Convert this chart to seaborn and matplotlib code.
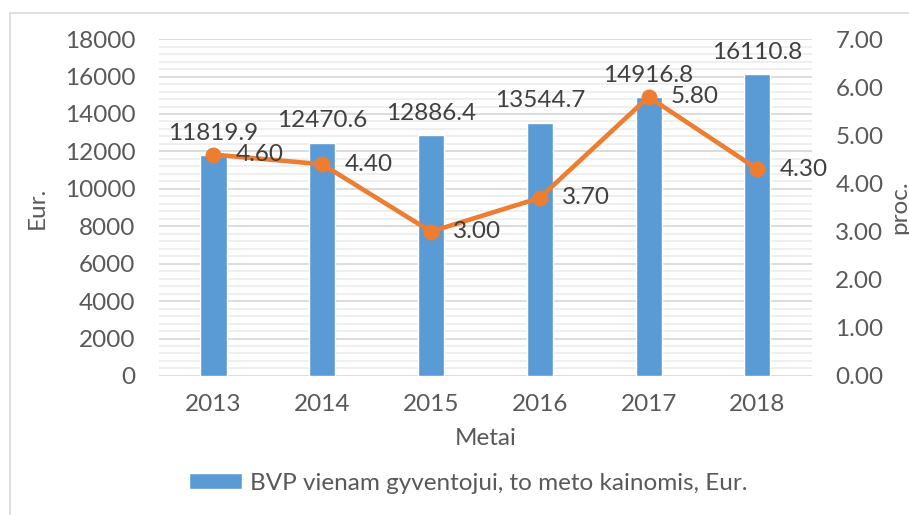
import matplotlib.pyplot as plt
import seaborn as sns
from matplotlib.ticker import MultipleLocator, FormatStrFormatter
from matplotlib.patches import Rectangle

years = ["2013", "2014", "2015", "2016", "2017", "2018"]
gdp = [11819.9, 12470.6, 12886.4, 13544.7, 14916.8, 16110.8]
growth = [4.60, 4.40, 3.00, 3.70, 5.80, 4.30]

blue = "#5B9BD5"
orange = "#ED7D31"
txt = "#595959"
fs = 17.5

sns.set_style("white")
plt.rcParams["font.family"] = ["Lato", "DejaVu Sans"]

fig = plt.figure(figsize=(9.09, 5.15), dpi=100)
ax = fig.add_axes([0.175, 0.270, 0.718, 0.654])

# bars - GDP per capita
sns.barplot(x=years, y=gdp, color=blue, saturation=1, width=0.24, errorbar=None, ax=ax)
ax.set_ylim(0, 18000)
ax.yaxis.set_major_locator(MultipleLocator(2000))
ax.yaxis.set_minor_locator(MultipleLocator(400))
ax.grid(which="major", axis="y", color="#D9D9D9", lw=1.3)
ax.grid(which="minor", axis="y", color="#EEEEEE", lw=1.3)
ax.set_axisbelow(True)
ax.tick_params(which="both", length=0, labelsize=fs, labelcolor=txt)
ax.tick_params(axis="y", pad=17)
ax.tick_params(axis="x", pad=13)
ax.set_xlabel("Metai", fontsize=fs, color=txt, labelpad=9)
ax.set_ylabel("Eur.", fontsize=fs, color=txt, labelpad=12)
ax.bar_label(ax.containers[0], fmt="%.1f", padding=8, fontsize=fs, color="#404040")
sns.despine(ax=ax, left=True, bottom=True)

# line - growth, right axis
ax2 = ax.twinx()
sns.pointplot(x=years, y=growth, color=orange, markers="o", markersize=9,
              linewidth=3.3, errorbar=None, ax=ax2)
ax2.set_ylim(0, 7)
ax2.yaxis.set_major_locator(MultipleLocator(1))
ax2.yaxis.set_major_formatter(FormatStrFormatter("%.2f"))
ax2.tick_params(length=0, labelsize=fs, labelcolor=txt, pad=17)
ax2.set_ylabel("proc.", fontsize=fs, color=txt, labelpad=4)
ax2.set_xlabel("")
for s in ax2.spines.values():
    s.set_visible(False)
for i, v in enumerate(growth):
    ax2.annotate(f"{v:.2f}", (i, v), xytext=(16, 0), textcoords="offset points",
                 ha="left", va="center", fontsize=fs, color="#404040")

fig.legend(handles=[ax.containers[0]],
           labels=["BVP vienam gyventojui, to meto kainomis, Eur."],
           loc="center", bbox_to_anchor=(468 / 909, 1 - 483 / 515),
           frameon=False, fontsize=fs, labelcolor=txt,
           handlelength=2.2, handleheight=0.6, handletextpad=0.3)

# chart area border
fig.add_artist(Rectangle((10 / 909, -0.1), 1.2, 1.1 - 13 / 515,
                         transform=fig.transFigure, fill=False,
                         edgecolor="#D9D9D9", lw=1.2))

fig.savefig("out.png", dpi=100)
